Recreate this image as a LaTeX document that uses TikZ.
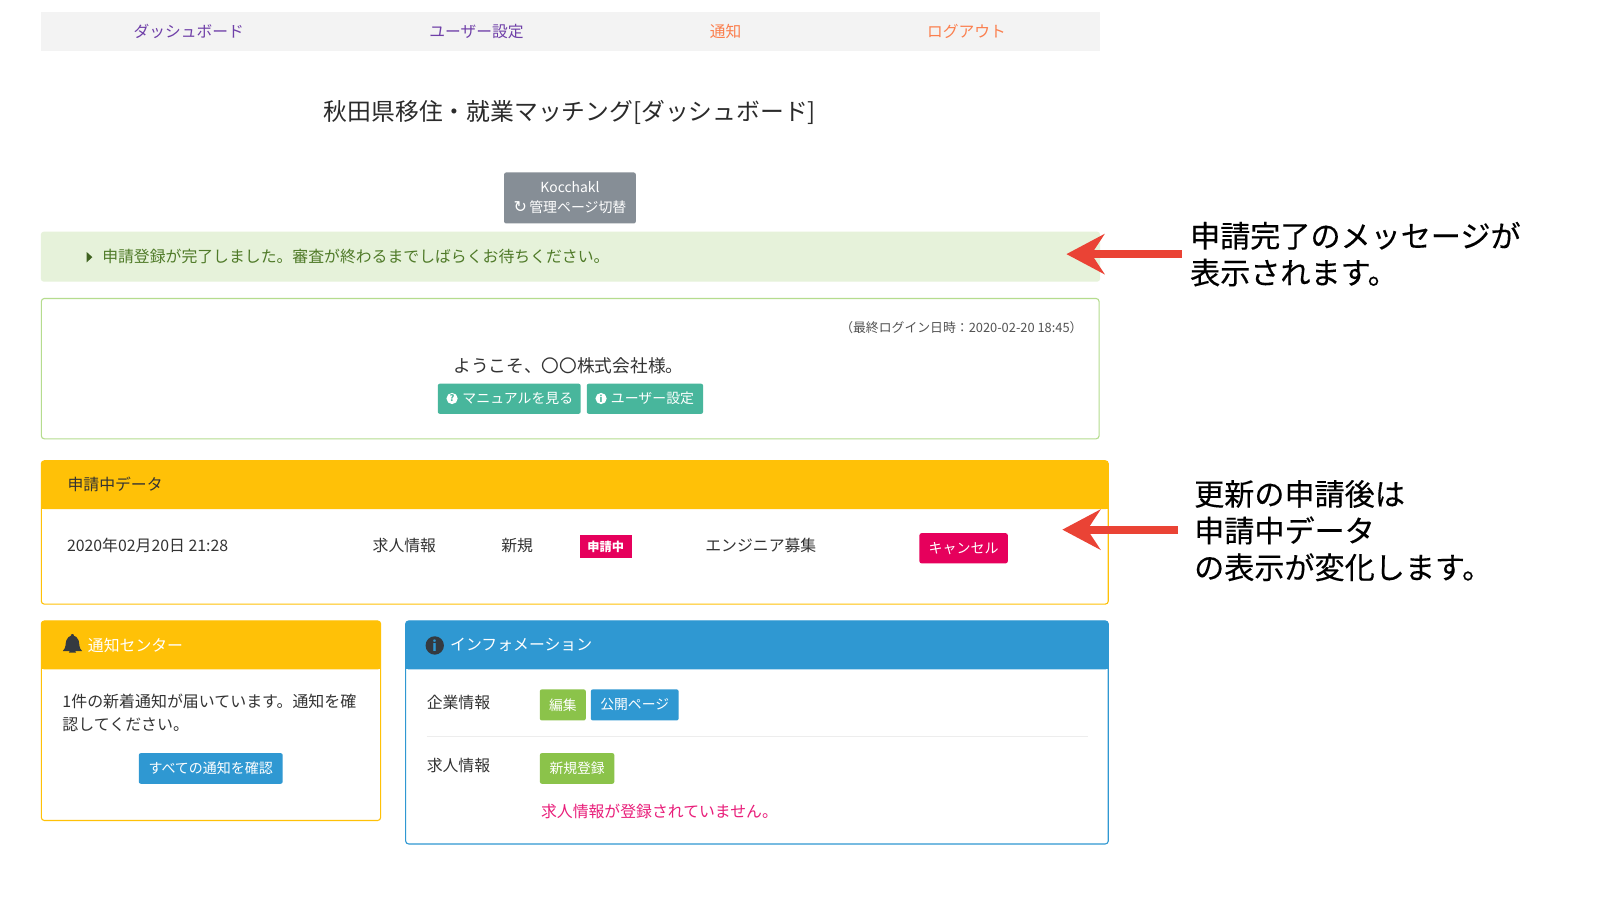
\documentclass[tikz,border=0pt]{standalone}
\usepackage{fontspec}
\setmainfont{Noto Sans CJK JP}
\newfontfamily\symfont{DejaVu Sans}
\newfontfamily\heavyfont[FakeBold=0.25]{Noto Sans CJK JP}
\usetikzlibrary{calc,arrows.meta}
\definecolor{navbg}{HTML}{F3F3F3}
\definecolor{navpurple}{HTML}{6F3FA8}
\definecolor{navorange}{HTML}{FB7F4E}
\definecolor{bodytext}{HTML}{333333}
\definecolor{greybtn}{HTML}{868E96}
\definecolor{alertbg}{HTML}{E6F2DA}
\definecolor{alerttext}{HTML}{4F7A28}
\definecolor{greenborder}{HTML}{B5DC8E}
\definecolor{teal}{HTML}{48B69C}
\definecolor{amber}{HTML}{FFC107}
\definecolor{sky}{HTML}{2F98D2}
\definecolor{pink}{HTML}{E6005C}
\definecolor{leaf}{HTML}{8BC34A}
\definecolor{redtext}{HTML}{E91E7A}
\definecolor{arrowred}{HTML}{EA4335}
\definecolor{darkicon}{HTML}{343A40}
\tikzset{
  x=1.0205pt,y=-1.0205pt,
  fs/.style={font=\fontsize{#1}{#1}\selectfont},
  txt/.style={anchor=west,inner sep=0pt,text=bodytext,fs=15.85},
  ctr/.style={inner sep=0pt,fs=15.75},
  callout/.style={anchor=west,inner sep=0pt,align=left,text=black,font=\fontsize{30.1}{36.7}\selectfont\heavyfont},
  redarrow/.style={draw=arrowred,line width=8pt,-{Stealth[length=38pt,width=40pt,inset=13pt]}},
}
% name, corner, corner, colour, size, text
\newcommand{\btnbox}[6]{%
  \fill[#4,rounded corners=2pt] (#2) rectangle (#3);
  \node[ctr,text=white,fs=#5] (#1) at ($(#2)!.5!(#3)$) {#6};
}
% header panel: x1,y1,x2,yhead,y2,colour
\newcommand{\panel}[6]{%
  \draw[#6,line width=1.1pt,fill=white,rounded corners=3pt] (#1,#2) rectangle (#3,#5);
  \fill[#6,rounded corners=3pt] (#1,#4) -- (#1,#2) -- (#3,#2) -- (#3,#4) -- cycle;
  \fill[#6] (#1,#4) rectangle (#3,#4-6);
}
\begin{document}
\begin{tikzpicture}
\useasboundingbox (0,0) rectangle (1567.86,881.92);
\fill[white] (0,0) rectangle (1567.86,881.92);
% nav
\fill[navbg] (40,12) rectangle (1078,50);
\node[ctr,text=navpurple] (nav1) at (185,30.5) {ダッシュボード};
\node[ctr,text=navpurple] (nav2) at (467,30.5) {ユーザー設定};
\node[ctr,text=navorange] (nav3) at (711,30.5) {通知};
\node[ctr,text=navorange] (nav4) at (947,30.5) {ログアウト};
% title
\node[ctr,text=bodytext!85!black,fs=23.8] (title) at (558.5,110) {秋田県移住・就業マッチング[ダッシュボード]};
% switch button
\fill[greybtn,rounded corners=2pt] (494,169) rectangle (623,219);
\node[ctr,text=white,fs=13.9] (brand) at (558.5,183.5) {Kocchakl};
\node[ctr,text=white,fs=13.9] (switch) at (558.5,203.5) {{\symfont\fontsize{16}{16}\selectfont ↻}\,管理ページ切替};
% alert
\fill[alertbg,rounded corners=3pt] (40,227) rectangle (1078,276);
\fill[alerttext!80!black] (85,247) -- (90.5,252) -- (85,257) -- cycle;
\node[txt,text=alerttext] (alert) at (100,251.5) {申請登録が完了しました。審査が終わるまでしばらくお待ちください。};
% welcome
\draw[greenborder,line width=1.1pt,rounded corners=3pt] (40.5,292.5) rectangle (1077,430);
\node[anchor=east,inner sep=0pt,text=bodytext!85,fs=12.85] (login) at (1061,321) {（最終ログイン日時：2020-02-20 18:45）};
\node[ctr,text=bodytext,fs=17.7] (welcome) at (557,358.5) {ようこそ、〇〇株式会社様。};
\coordinate (m1) at (429,376); \coordinate (m2) at (569,405.5);
\fill[teal,rounded corners=2pt] (m1) rectangle (m2);
\fill[white] (443,390.5) circle (5.5);
\node[ctr,text=teal,font=\fontsize{9}{9}\selectfont\bfseries] (qmark) at (443,390.5) {?};
\node[anchor=west,inner sep=0pt,text=white,fs=13.9] (manual) at (453,390.5) {マニュアルを見る};
\coordinate (u1) at (575,376); \coordinate (u2) at (689,405.5);
\fill[teal,rounded corners=2pt] (u1) rectangle (u2);
\fill[white] (589,390.5) circle (5.5);
\node[ctr,text=teal,font=\fontsize{9}{9}\selectfont\bfseries] (imark) at (589,390.5) {i};
\node[anchor=west,inner sep=0pt,text=white,fs=13.9] (userset) at (598.5,390.5) {ユーザー設定};
% application panel
\panel{40.5}{451.5}{1086}{499}{592}{amber}
\node[txt] (apphead) at (66,475) {申請中データ};
\node[txt] (appdate) at (65.5,534.5) {2020年02月20日 21:28};
\node[txt] (appkind) at (365,534.5) {求人情報};
\node[txt] (appnew) at (491,534.5) {新規};
\coordinate (t1) at (568,524); \coordinate (t2) at (619,547);
\fill[pink] (t1) rectangle (t2);
\node[ctr,text=white,font=\fontsize{12.2}{12.2}\selectfont\bfseries] (tag) at (593.5,535.5) {申請中};
\node[txt] (apptitle) at (691,534.5) {エンジニア募集};
\coordinate (c1) at (901,522.5); \coordinate (c2) at (987.5,552);
\btnbox{cancel}{c1}{c2}{pink}{14}{キャンセル}
% notification panel
\panel{40.5}{608.5}{373}{656}{804}{amber}
\fill[darkicon] (61.5,638) .. controls (65,635) and (64,630) .. (65,627.5)
  .. controls (66,624.5) and (68,623.5) .. (69.5,623)
  -- (69.5,622) .. controls (70,621) and (72,621) .. (72.5,622) -- (72.5,623)
  .. controls (74,623.5) and (76,624.5) .. (77,627.5)
  .. controls (78,630) and (77,635) .. (80.5,638) -- cycle;
\fill[darkicon] (67.5,639.5) arc[start angle=180,end angle=0,x radius=3.5,y radius=-3.2] -- cycle;
\node[txt,text=white] (nothead) at (86,632) {通知センター};
\node[anchor=north west,inner sep=0pt,text=bodytext,align=left,font=\fontsize{15.95}{23.6}\selectfont] (notbody) at (61,679.5) {1件の新着通知が届いています。通知を確\\認してください。};
\coordinate (a1) at (136,738); \coordinate (a2) at (277,768);
\btnbox{allnot}{a1}{a2}{sky}{14}{すべての通知を確認}
% information panel
\panel{397.5}{608.5}{1086}{656}{827}{sky}
\fill[darkicon] (426,632.5) circle (9);
\node[ctr,text=sky,font=\fontsize{14}{14}\selectfont\bfseries] (infoi) at (426,632.5) {i};
\node[txt,text=white] (infohead) at (441,632) {インフォメーション};
\node[txt] (company) at (418,688) {企業情報};
\coordinate (e1) at (529,675.5); \coordinate (e2) at (574,706);
\btnbox{edit}{e1}{e2}{leaf}{13.8}{編集}
\coordinate (p1) at (579,675.5); \coordinate (p2) at (665,706);
\btnbox{public}{p1}{p2}{sky}{13.8}{公開ページ}
\draw[black!7,line width=1.2pt] (418,722) -- (1066,722);
\node[txt] (jobs) at (418,750) {求人情報};
\coordinate (n1) at (529,738); \coordinate (n2) at (602,768);
\btnbox{newreg}{n1}{n2}{leaf}{13.8}{新規登録}
\node[txt,text=redtext] (nojobs) at (530,795) {求人情報が登録されていません。};
% callouts
\node[callout] (call1) at (1166,249) {申請完了のメッセージが\\表示されます。};
\node[callout] (call2) at (1170,520) {更新の申請後は\\申請中データ\\の表示が変化します。};
\coordinate (s1) at (1158,249); \coordinate (e3) at (1045,249);
\coordinate (s2) at (1154,519); \coordinate (e4) at (1041,519);
\draw[redarrow] (s1) -- (e3);
\draw[redarrow] (s2) -- (e4);
\end{tikzpicture}
\end{document}
